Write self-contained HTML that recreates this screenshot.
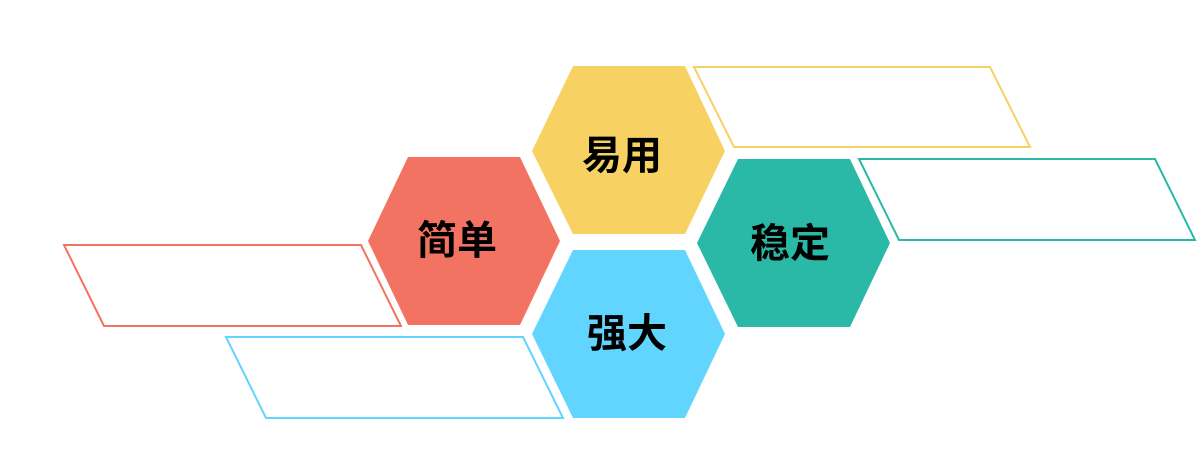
<!DOCTYPE html>
<html><head><meta charset="utf-8"><style>
html,body{margin:0;padding:0;background:#fff;width:1200px;height:460px;overflow:hidden}
</style></head><body>
<svg width="1200" height="460" xmlns="http://www.w3.org/2000/svg" font-family="Liberation Sans, Noto Sans CJK SC, sans-serif">
<g fill="#fff" stroke-width="2">
<polygon points="694,67 990,67 1030,147 734,147" stroke="#f7d262"/>
<polygon points="859,159 1155,159 1195,240 899,240" stroke="#2bb9a7"/>
<polygon points="64,245 361,245 401,326 104,326" stroke="#f37363"/>
<polygon points="226,337 523,337 563,418 266,418" stroke="#61d5fe"/>
</g>
<polygon points="573,66 685,66 725,151 685,234 573,234 532,151" fill="#f7d262"/>
<polygon points="408,157 520,157 560,241 520,325 408,325 368,241" fill="#f37363"/>
<polygon points="573,250 685,250 725,334 685,418 573,418 532,334" fill="#61d5fe"/>
<polygon points="738,159 850,159 890,243 850,327 738,327 697,243" fill="#2bb9a7"/>
<g font-size="40" font-weight="bold" fill="#000" text-anchor="middle">
<text x="622" y="169">易用</text>
<text x="457" y="254">简单</text>
<text x="627" y="347">强大</text>
<text x="790" y="257">稳定</text>
</g>
</svg>
</body></html>
